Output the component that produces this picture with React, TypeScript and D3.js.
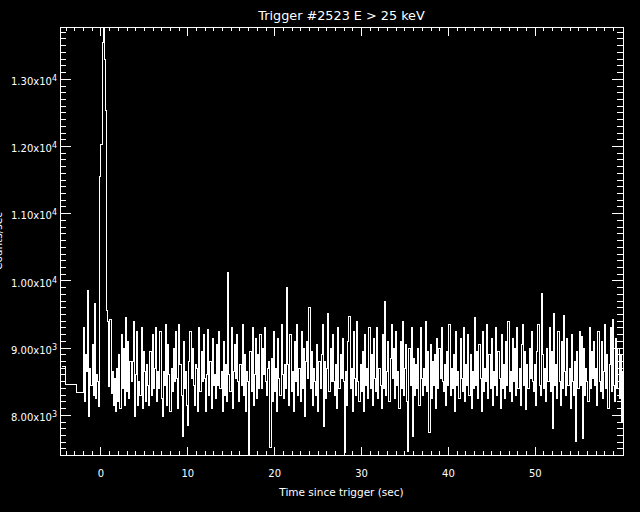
import React from "react";
import * as d3 from "d3";

const TITLE = "Trigger #2523 E > 25 keV";
const X_TITLE = "Time since trigger (sec)";
const Y_TITLE = "Counts/sec";

const X_DOMAIN = [-4.72, 60.1];
const Y_DOMAIN = [7409, 13778];

const X_MAJOR = [0, 10, 20, 30, 40, 50];
const X_LABELS = ["0", "10", "20", "30", "40", "50"];
const Y_MAJOR = [8000, 9000, 10000, 11000, 12000, 13000];
const Y_MANT = ["8.00", "9.00", "1.00", "1.10", "1.20", "1.30"];
const Y_EXP = ["3", "3", "4", "4", "4", "4"];

// pre-trigger coarse bins
const PRE_TIMES = [-4.48, -4.11, -2.8];
const PRE_COUNTS = [8723, 8461, 8336];

// fine bins
const FINE_START = -2.048;
const FINE_BIN = 0.128;
const FINE_COUNTS = [
  9300, 8200, 8900, 8650, 9860, 7980, 8700, 8450, 9050, 8300, 9670, 8250, 8600, 8500, 8130, 11550, 12030, 13550, 14200, 13300,
  12540, 9560, 9400, 8430, 9430, 8330, 8650, 8150, 8550, 8050, 8700, 8200, 8900, 8100, 9200, 8400, 9000, 8150, 9450, 8350,
  9100, 8250, 8800, 8500, 8800, 9390, 7975, 8600, 9250, 8150, 8500, 8300, 9300, 8100, 8950, 8650, 8200, 8750, 8450, 8150,
  8950, 8300, 9200, 8400, 8700, 9300, 8200, 8650, 8400, 9250, 8250, 7975, 8650, 8450, 9345, 8150, 9050, 8600, 8050, 8700,
  8350, 9000, 8500, 9250, 8550, 8100, 9345, 8750, 8300, 7680, 9100, 8400, 8650, 8150, 7855, 8800, 9250, 8550, 9000, 8450,
  8150, 8750, 8700, 8050, 9300, 8350, 8950, 8500, 9200, 8550, 8050, 8600, 9270, 8300, 8800, 8100, 9150, 8450, 8600, 8250,
  9050, 8450, 9250, 8400, 8650, 8050, 9100, 8300, 8750, 8200, 10130, 8600, 8350, 9300, 8100, 8650, 9050, 8550, 9200, 8500,
  8200, 8750, 8450, 9350, 8300, 8900, 8050, 8650, 8500, 7420, 8950, 8350, 9300, 8150, 8600, 9150, 8250, 8900, 8400, 9200,
  8400, 9000, 8600, 9300, 8500, 8300, 8700, 8800, 7520, 8850, 8200, 9250, 8350, 8700, 8050, 9150, 8550, 8300, 9350, 8600,
  8250, 8750, 8400, 9900, 8750, 8150, 9200, 8350, 8650, 8050, 9100, 8500, 9350, 8300, 8700, 8200, 9250, 8400, 9000, 7975,
  8800, 9100, 8550, 9600, 8400, 8950, 8150, 8700, 8500, 8300, 9050, 8050, 8800, 8400, 8900, 9350, 7830, 8800, 8250, 8700,
  9520, 8350, 9000, 8500, 9200, 8500, 8300, 8750, 8100, 9300, 8400, 8900, 8550, 9150, 8500, 7450, 8650, 8150, 9100, 9470,
  8400, 8700, 8050, 9250, 8550, 8300, 9400, 8500, 8200, 8750, 8350, 8950, 8050, 9200, 8450, 8700, 8250, 9300, 8400, 8900,
  8150, 9150, 8550, 8350, 9300, 8250, 8700, 8450, 8100, 9200, 8400, 9700, 8300, 8650, 9100, 8200, 8850, 9350, 8550, 9000,
  8250, 9250, 8450, 8650, 8100, 9100, 8400, 9400, 8300, 8700, 9050, 8200, 7460, 9000, 8450, 9300, 7680, 8850, 8300, 8750,
  8400, 9000, 8150, 9300, 8550, 8300, 8700, 8450, 9400, 8350, 8950, 7740, 9050, 8250, 8800, 8450, 8900, 8100, 9150, 8400,
  9000, 8550, 9300, 8500, 8350, 8750, 8150, 8950, 8450, 9350, 8300, 8700, 8400, 8900, 8050, 9250, 8450, 8650, 8250, 9150,
  8550, 8350, 9300, 8200, 8750, 8450, 9200, 8300, 8900, 8100, 8650, 8400, 9450, 8450, 8950, 8250, 9050, 8550, 8050, 9250,
  8350, 8700, 8500, 9350, 8250, 8900, 8400, 9150, 8150, 8650, 8450, 9300, 8300, 8950, 8550, 8100, 9200, 8400, 8750, 8250,
  9100, 8450, 9400, 8350, 8650, 8200, 9150, 8500, 9000, 8300, 9300, 8400, 8700, 8150, 9050, 9350, 8450, 8950, 8080, 8750,
  8400, 9000, 8550, 9250, 8500, 8350, 8750, 8150, 8950, 9350, 8450, 8300, 9815, 8900, 8400, 8700, 8200, 9000, 8500, 9300,
  8350, 8950, 7810, 9520, 8450, 8750, 8250, 9250, 8500, 8150, 9100, 8400, 9490, 8650, 8300, 9150, 8450, 8700, 8100, 9200,
  8500, 8300, 8800, 7610, 8950, 8400, 9250, 8450, 9170, 7660, 9000, 8300, 8700, 8500, 8200, 9300, 8400, 8950, 8550, 9100,
  8450, 8700, 8150, 9250, 8500, 8350, 9100, 8250, 8650, 9350, 8400, 8900, 8100, 8750, 9300, 8350, 9430, 8450, 8200, 9150,
  8400, 9000, 8250, 8900, 7900, 8650,
];

const W = 640;
const H = 512;
const LEFT = 60;
const RIGHT = 623;
const TOP = 27;
const BOTTOM = 455;

export default function App() {
  React.useEffect(() => {
    document.body.style.margin = "0";
    document.body.style.background = "#000";
  }, []);

  const x = d3.scaleLinear().domain(X_DOMAIN).range([LEFT, RIGHT]);
  const y = d3.scaleLinear().domain(Y_DOMAIN).range([BOTTOM, TOP]);

  const pts: [number, number][] = [];
  PRE_TIMES.forEach((t, i) => pts.push([t, PRE_COUNTS[i]]));
  FINE_COUNTS.forEach((v, i) => pts.push([FINE_START + i * FINE_BIN, v]));
  const last = FINE_COUNTS[FINE_COUNTS.length - 1];
  pts.push([FINE_START + FINE_COUNTS.length * FINE_BIN, last]);

  const line = d3
    .line<[number, number]>()
    .x((d) => x(d[0]))
    .y((d) => y(d[1]))
    .curve(d3.curveStepAfter);

  const xMinor = d3.range(-4, 61, 1).filter((t) => t % 10 !== 0);
  const yMinor = d3.range(7500, 13800, 100).filter((v) => v % 1000 !== 0);

  const xMajLen = 8.5;
  const xMinLen = 4.3;
  const yMajLen = 11.3;
  const yMinLen = 5.7;

  const font = "DejaVu Sans, sans-serif";

  return (
    <svg
      width={W}
      height={H}
      style={{ position: "absolute", left: 0, top: 0, background: "#000" }}
    >
      <rect x={0} y={0} width={W} height={H} fill="#000" />
      <defs>
        <clipPath id="plotclip">
          <rect x={LEFT} y={TOP} width={RIGHT - LEFT} height={BOTTOM - TOP} />
        </clipPath>
      </defs>
      <path
        d={line(pts) || ""}
        fill="none"
        stroke="#fff"
        strokeWidth={1}
        shapeRendering="crispEdges"
        clipPath="url(#plotclip)"
      />
      <g stroke="#fff" strokeWidth={1} shapeRendering="crispEdges">
        <rect
          x={LEFT}
          y={TOP}
          width={RIGHT - LEFT}
          height={BOTTOM - TOP}
          fill="none"
        />
        {X_MAJOR.map((t) => (
          <g key={"xm" + t}>
            <line x1={x(t)} x2={x(t)} y1={BOTTOM} y2={BOTTOM - xMajLen} />
            <line x1={x(t)} x2={x(t)} y1={TOP} y2={TOP + xMajLen} />
          </g>
        ))}
        {xMinor.map((t) => (
          <g key={"xn" + t}>
            <line x1={x(t)} x2={x(t)} y1={BOTTOM} y2={BOTTOM - xMinLen} />
            <line x1={x(t)} x2={x(t)} y1={TOP} y2={TOP + xMinLen} />
          </g>
        ))}
        {Y_MAJOR.map((v) => (
          <g key={"ym" + v}>
            <line x1={LEFT} x2={LEFT + yMajLen} y1={y(v)} y2={y(v)} />
            <line x1={RIGHT} x2={RIGHT - yMajLen} y1={y(v)} y2={y(v)} />
          </g>
        ))}
        {yMinor.map((v) => (
          <g key={"yn" + v}>
            <line x1={LEFT} x2={LEFT + yMinLen} y1={y(v)} y2={y(v)} />
            <line x1={RIGHT} x2={RIGHT - yMinLen} y1={y(v)} y2={y(v)} />
          </g>
        ))}
      </g>
      <g fill="#fff" fontFamily={font}>
        <text x={(LEFT + RIGHT) / 2} y={20} fontSize={12.8} textAnchor="middle">
          {TITLE}
        </text>
        {X_MAJOR.map((t, i) => (
          <text key={"xl" + t} x={x(t)} y={477} fontSize={10} textAnchor="middle">
            {X_LABELS[i]}
          </text>
        ))}
        <text x={(LEFT + RIGHT) / 2} y={496} fontSize={10.5} textAnchor="middle">
          {X_TITLE}
        </text>
        {Y_MAJOR.map((v, i) => (
          <text key={"yl" + v} x={57} y={y(v) + 5.7} fontSize={10} textAnchor="end">
            {Y_MANT[i] + "x10"}
            <tspan dy={-4} fontSize={8}>
              {Y_EXP[i]}
            </tspan>
          </text>
        ))}
        <text
          transform={`translate(2.3, ${(TOP + BOTTOM) / 2}) rotate(-90)`}
          fontSize={10.5}
          textAnchor="middle"
        >
          {Y_TITLE}
        </text>
      </g>
    </svg>
  );
}
